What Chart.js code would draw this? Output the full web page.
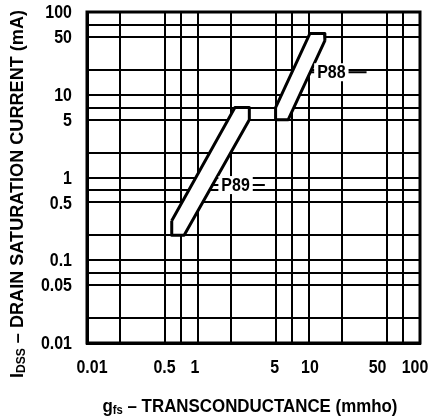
<!DOCTYPE html>
<html>
<head>
<meta charset="utf-8">
<script src="https://cdn.jsdelivr.net/npm/chart.js@4.4.1/dist/chart.umd.min.js"></script>
<style>
  html, body { margin: 0; padding: 0; background: #fff; }
  #wrap { width: 435px; height: 416px; position: relative; }
</style>
</head>
<body>
<div id="wrap"><canvas id="gfsChart"></canvas></div>
<script>
const FONT = '"Liberation Sans", Arial, sans-serif';

// grid lines of the log paper
const xGrid = [0.1, 0.2, 0.5, 0.7, 1, 2, 5, 7, 10, 20, 50, 70, 100];
const yGrid = [0.01, 0.02, 0.05, 0.07, 0.1, 0.2, 0.5, 0.7, 1, 2, 5, 7, 10, 20, 50, 70, 100];

// labelled ticks (the left x label reads 0.01 on the original sheet)
const xLabelValues = [0.1, 0.5, 1, 5, 10, 50, 100];
const xLabelText = ['0.01', '0.5', '1', '5', '10', '50', '100'];
const yLabelValues = [0.01, 0.05, 0.1, 0.5, 1, 5, 10, 50, 100];
const yLabelText = ['0.01', '0.05', '0.1', '0.5', '1', '5', '10', '50', '100'];

// P89 band outline (gfs mmho, IDSS mA)
const p89Gfs = [0.58, 2.15, 2.9, 2.9, 0.75, 0.58, 0.58];
const p89Idss = [0.3, 7, 7, 5, 0.2, 0.2, 0.3];

// P88 band outline
const p88Gfs = [5, 10.2, 13.8, 13.9, 6.5, 5, 5];
const p88Idss = [7, 55, 55, 45, 5, 5, 7];

// part labels: name, label centre, leader line x from / to
const partNames = ['P89', 'P88'];
const partLabelGfs = [2.18, 15.9];
const partLabelIdss = [0.81, 18.7];
const leaderFrom = [1.32, 10.3];
const leaderTo = [4.0, 33];

// small nudges so x labels sit like the printed ones (px)
const xLabelNudge = [5, 0, -3, -1, 1, -9, -5];

const zip = (xs, ys) => xs.map((x, i) => ({ x: x, y: ys[i] }));

// condensed bold text: regular face squeezed horizontally
function condText(ctx, text, x, y, align, size) {
  ctx.save();
  ctx.translate(x, y);
  ctx.scale(0.84, 1);
  ctx.font = 'bold ' + size + 'px ' + FONT;
  ctx.textAlign = align;
  ctx.textBaseline = 'middle';
  ctx.fillText(text, 0, 0);
  ctx.restore();
}

// text with a subscript, centred on origin and fitted to a width
function drawRich(ctx, parts, size, width) {
  const big = 'bold ' + size + 'px ' + FONT;
  const small = 'bold ' + Math.round(size * 0.68) + 'px ' + FONT;
  let total = 0;
  parts.forEach(p => {
    ctx.font = p.sub ? small : big;
    p.w = ctx.measureText(p.t).width;
    total += p.w;
  });
  ctx.scale(width / total, 1);
  let x = -total / 2;
  ctx.textBaseline = 'alphabetic';
  ctx.textAlign = 'left';
  parts.forEach(p => {
    ctx.font = p.sub ? small : big;
    ctx.fillText(p.t, x, p.sub ? size * 0.45 : size * 0.36);
    x += p.w;
  });
}

const extras = {
  id: 'extras',
  afterDatasetsDraw(chart) {
    const ctx = chart.ctx;
    const xs = chart.scales.x, ys = chart.scales.y;
    const area = chart.chartArea;
    ctx.save();
    ctx.fillStyle = '#000';

    // frame
    ctx.strokeStyle = '#000';
    ctx.lineWidth = 3;
    ctx.strokeRect(area.left, area.top, area.right - area.left, area.bottom - area.top);

    // part labels with leader lines
    partNames.forEach((name, i) => {
      const cx = xs.getPixelForValue(partLabelGfs[i]);
      const cy = ys.getPixelForValue(partLabelIdss[i]);
      ctx.lineWidth = 2;
      ctx.beginPath();
      ctx.moveTo(xs.getPixelForValue(leaderFrom[i]), cy);
      ctx.lineTo(xs.getPixelForValue(leaderTo[i]), cy);
      ctx.stroke();
      ctx.font = 'bold 19px ' + FONT;
      const w = ctx.measureText(name).width * 0.84;
      ctx.fillStyle = '#fff';
      ctx.fillRect(cx - w / 2 - 3, cy - 9, w + 6, 18);
      ctx.fillStyle = '#000';
      condText(ctx, name, cx, cy + 1, 'center', 19);
    });

    // tick labels
    xLabelValues.forEach((v, i) => {
      condText(ctx, xLabelText[i], xs.getPixelForValue(v) + xLabelNudge[i], area.bottom + 25, 'center', 19);
    });
    yLabelValues.forEach((v, i) => {
      condText(ctx, yLabelText[i], area.left - 15, ys.getPixelForValue(v) + 1, 'right', 19);
    });

    // axis titles
    ctx.save();
    ctx.translate(250, 406);
    drawRich(ctx, [{ t: 'g' }, { t: 'fs', sub: true }, { t: ' \u2013 TRANSCONDUCTANCE (mmho)' }], 18, 295);
    ctx.restore();

    ctx.save();
    ctx.translate(17, 194);
    ctx.rotate(-Math.PI / 2);
    drawRich(ctx, [{ t: 'I' }, { t: 'DSS', sub: true }, { t: ' \u2013 DRAIN SATURATION CURRENT (mA)' }], 18, 368);
    ctx.restore();

    ctx.restore();
  }
};

const bgWhite = {
  id: 'bgWhite',
  beforeDraw(chart) {
    const ctx = chart.ctx;
    ctx.save();
    ctx.fillStyle = '#fff';
    ctx.fillRect(0, 0, chart.width, chart.height);
    ctx.restore();
  }
};

const bandStyle = {
  showLine: true,
  fill: 'shape',
  backgroundColor: '#fff',
  borderColor: '#000',
  borderWidth: 3,
  borderJoinStyle: 'round',
  pointRadius: 0,
  pointHoverRadius: 0,
  tension: 0
};

new Chart(document.getElementById('gfsChart'), {
  type: 'scatter',
  data: {
    datasets: [
      Object.assign({ label: 'P89', data: zip(p89Gfs, p89Idss) }, bandStyle),
      Object.assign({ label: 'P88', data: zip(p88Gfs, p88Idss) }, bandStyle)
    ]
  },
  options: {
    responsive: true,
    maintainAspectRatio: false,
    animation: false,
    events: [],
    layout: { padding: { top: 12, right: 15, left: 0, bottom: 0 } },
    plugins: { legend: { display: false }, tooltip: { enabled: false } },
    scales: {
      x: {
        type: 'logarithmic',
        min: 0.1,
        max: 100,
        afterBuildTicks: s => { s.ticks = xGrid.map(v => ({ value: v })); },
        afterFit: s => { s.height = 73; },
        ticks: { display: false, autoSkip: false },
        grid: { color: '#000', lineWidth: 2, drawTicks: false },
        border: { color: '#000', width: 3 }
      },
      y: {
        type: 'logarithmic',
        min: 0.01,
        max: 100,
        afterBuildTicks: s => { s.ticks = yGrid.map(v => ({ value: v })); },
        afterFit: s => { s.width = 87; },
        ticks: { display: false, autoSkip: false },
        grid: { color: '#000', lineWidth: 2, drawTicks: false },
        border: { color: '#000', width: 3 }
      }
    }
  },
  plugins: [bgWhite, extras]
});
</script>
</body>
</html>
